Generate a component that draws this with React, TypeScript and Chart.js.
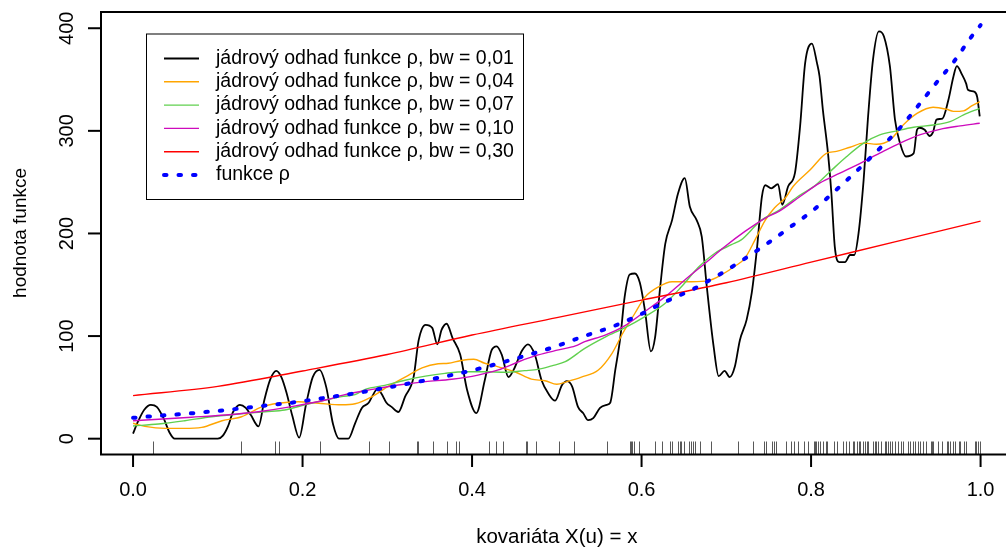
import React, { useEffect, useRef } from "react";
import { Chart, registerables } from "chart.js";

Chart.register(...registerables);

const FONT = '"Liberation Sans", Arial, Helvetica, sans-serif';

// axis ticks
const xTicks = [0, 0.2, 0.4, 0.6, 0.8, 1.0];
const xTickLabels = ["0.0", "0.2", "0.4", "0.6", "0.8", "1.0"];
const yTicks = [0, 100, 200, 300, 400];
const yTickLabels = ["0", "100", "200", "300", "400"];
const xTitle = "kovariáta X(u) = x";
const yTitle = "hodnota funkce";

// legend
const legendLabels = [
  "jádrový odhad funkce ρ, bw = 0,01",
  "jádrový odhad funkce ρ, bw = 0,04",
  "jádrový odhad funkce ρ, bw = 0,07",
  "jádrový odhad funkce ρ, bw = 0,10",
  "jádrový odhad funkce ρ, bw = 0,30",
  "funkce ρ",
];

// bw = 0.01
const bw01X = [0.000, 0.006, 0.013, 0.021, 0.028, 0.036, 0.043, 0.049, 0.100, 0.106, 0.112, 0.118, 0.126, 0.133, 0.139, 0.148, 0.155, 0.162, 0.169, 0.175, 0.181, 0.188, 0.196, 0.204, 0.212, 0.220, 0.228, 0.236, 0.243, 0.254, 0.262, 0.270, 0.278, 0.282, 0.288, 0.293, 0.299, 0.305, 0.313, 0.321, 0.331, 0.337, 0.345, 0.353, 0.359, 0.364, 0.370, 0.377, 0.386, 0.394, 0.405, 0.415, 0.423, 0.429, 0.435, 0.443, 0.449, 0.459, 0.466, 0.474, 0.482, 0.490, 0.498, 0.506, 0.512, 0.518, 0.525, 0.531, 0.537, 0.543, 0.551, 0.559, 0.563, 0.569, 0.575, 0.580, 0.586, 0.592, 0.598, 0.604, 0.611, 0.616, 0.622, 0.628, 0.636, 0.643, 0.651, 0.657, 0.665, 0.671, 0.677, 0.685, 0.691, 0.698, 0.704, 0.710, 0.716, 0.724, 0.730, 0.736, 0.742, 0.746, 0.753, 0.761, 0.766, 0.773, 0.781, 0.787, 0.793, 0.801, 0.807, 0.810, 0.814, 0.820, 0.824, 0.828, 0.833, 0.840, 0.846, 0.851, 0.856, 0.862, 0.867, 0.873, 0.880, 0.886, 0.893, 0.899, 0.905, 0.912, 0.921, 0.925, 0.928, 0.934, 0.940, 0.944, 0.948, 0.955, 0.962, 0.968, 0.972, 0.978, 0.983, 0.985, 0.993, 0.996, 0.999];
const bw01Y = [5, 17, 28, 33, 31, 20, 6, 0, 0, 3, 12, 26, 33, 30, 23, 12, 38, 58, 66, 60, 45, 22, 1, 33, 60, 67, 50, 14, 0, 0, 15, 30, 35, 41, 48, 44, 35, 31, 26, 41, 60, 96, 111, 108, 92, 106, 112, 98, 82, 48, 25, 57, 86, 90, 82, 60, 67, 86, 92, 82, 57, 44, 37, 52, 56, 51, 31, 25, 18, 20, 30, 33, 35, 67, 99, 138, 160, 161, 152, 125, 85, 99, 148, 190, 213, 239, 254, 226, 213, 197, 148, 90, 61, 66, 60, 70, 96, 116, 142, 184, 236, 247, 244, 248, 228, 246, 259, 304, 366, 385, 366, 353, 320, 278, 239, 187, 172, 172, 179, 179, 200, 252, 311, 369, 397, 392, 363, 311, 288, 275, 278, 301, 303, 301, 295, 299, 311, 312, 330, 353, 363, 355, 346, 340, 338, 333, 314];

// bw = 0.04
const bw04X = [0.000, 0.014, 0.038, 0.060, 0.081, 0.105, 0.128, 0.152, 0.171, 0.195, 0.219, 0.246, 0.262, 0.282, 0.301, 0.321, 0.341, 0.360, 0.372, 0.386, 0.402, 0.415, 0.431, 0.451, 0.470, 0.486, 0.500, 0.512, 0.529, 0.549, 0.565, 0.578, 0.592, 0.604, 0.620, 0.636, 0.659, 0.679, 0.695, 0.710, 0.722, 0.734, 0.746, 0.757, 0.770, 0.779, 0.799, 0.818, 0.830, 0.846, 0.862, 0.877, 0.893, 0.909, 0.925, 0.944, 0.960, 0.968, 0.980, 0.989, 0.999];
const bw04Y = [15, 12, 10, 10, 11, 17.5, 21.4, 31, 34.5, 36, 34.5, 33, 34, 41, 51, 60, 69, 73, 73.5, 76, 77.4, 73.5, 70, 65, 58, 56.5, 53, 55.6, 60, 67, 83, 103, 122, 138, 148, 153, 153, 154, 160, 168, 176, 194, 213, 225, 235, 246, 262, 278, 280, 284, 288, 287, 291, 306, 317, 323, 321, 319, 319.5, 324, 328.5];

// bw = 0.07
const bw07X = [0.000, 0.030, 0.061, 0.093, 0.124, 0.156, 0.179, 0.203, 0.227, 0.246, 0.262, 0.274, 0.297, 0.321, 0.345, 0.368, 0.392, 0.415, 0.439, 0.462, 0.478, 0.494, 0.510, 0.533, 0.557, 0.580, 0.604, 0.628, 0.647, 0.667, 0.687, 0.706, 0.718, 0.740, 0.763, 0.787, 0.803, 0.822, 0.842, 0.862, 0.881, 0.901, 0.921, 0.944, 0.964, 0.980, 0.999];
const bw07Y = [12.4, 14.3, 17.5, 21.4, 24, 26.3, 28, 33, 37.7, 41, 43, 48, 52, 57, 61, 63.7, 65.3, 65.3, 64.7, 66.3, 67.6, 71, 75, 88, 99, 108, 119, 132, 148, 167, 181, 189, 194, 212, 223, 237.5, 245.6, 260, 275, 288, 296, 300, 303.5, 305.7, 309, 315.5, 322];

// bw = 0.10
const bw10X = [0.000, 0.030, 0.069, 0.109, 0.148, 0.187, 0.227, 0.250, 0.282, 0.313, 0.345, 0.376, 0.407, 0.431, 0.455, 0.478, 0.502, 0.522, 0.533, 0.557, 0.580, 0.604, 0.628, 0.651, 0.675, 0.698, 0.722, 0.746, 0.763, 0.787, 0.810, 0.834, 0.858, 0.881, 0.905, 0.928, 0.952, 0.976, 0.999];
const bw10Y = [17.5, 18.9, 20.9, 23.1, 26.3, 31.2, 37.7, 43, 48, 52.3, 55.6, 57.9, 62, 67, 75, 81.6, 86.5, 90.4, 94.5, 101, 110, 124, 138.4, 154.7, 171, 187, 202, 215, 222, 236, 249, 258.7, 268.4, 278.2, 288, 296, 301.5, 304.8, 307.4];

// bw = 0.30
const bw30X = [0.0, 0.1, 0.2, 0.3, 0.4, 0.5, 0.6, 0.7, 0.8, 0.9, 1.0];
const bw30Y = [42, 51, 66, 82, 101, 118, 135, 152, 172, 192, 212];

// true function rho
const rhoX = [0.000, 0.021, 0.055, 0.090, 0.124, 0.159, 0.194, 0.228, 0.262, 0.297, 0.331, 0.365, 0.399, 0.432, 0.465, 0.499, 0.529, 0.565, 0.596, 0.627, 0.659, 0.690, 0.719, 0.748, 0.775, 0.803, 0.829, 0.854, 0.880, 0.905, 0.925, 0.947, 0.969, 0.989, 1.000];
const rhoY = [20.3, 21.8, 23.8, 26.3, 29.2, 32.5, 35.8, 40, 44.2, 49.4, 54.6, 60.1, 66.3, 73.5, 81.3, 90, 99, 109, 120, 133, 145, 159, 174, 190, 206, 223, 242, 261, 282, 303, 323, 346, 368, 391.5, 403];

// rug (observed covariate values)
const rugX = [0.023, 0.127, 0.168, 0.172, 0.221, 0.278, 0.302, 0.335, 0.336, 0.354, 0.371, 0.381, 0.384, 0.420, 0.428, 0.437, 0.464, 0.465, 0.476, 0.502, 0.520, 0.559, 0.586, 0.588, 0.589, 0.591, 0.597, 0.616, 0.624, 0.634, 0.636, 0.643, 0.645, 0.647, 0.650, 0.656, 0.658, 0.661, 0.663, 0.669, 0.682, 0.714, 0.732, 0.744, 0.747, 0.754, 0.756, 0.759, 0.770, 0.776, 0.780, 0.785, 0.792, 0.796, 0.804, 0.805, 0.806, 0.808, 0.810, 0.814, 0.818, 0.819, 0.827, 0.831, 0.838, 0.841, 0.845, 0.849, 0.851, 0.854, 0.856, 0.858, 0.861, 0.864, 0.866, 0.867, 0.873, 0.875, 0.877, 0.879, 0.883, 0.887, 0.889, 0.891, 0.893, 0.895, 0.899, 0.903, 0.906, 0.909, 0.914, 0.917, 0.920, 0.923, 0.926, 0.928, 0.932, 0.936, 0.941, 0.943, 0.944, 0.950, 0.954, 0.960, 0.962, 0.964, 0.967, 0.970, 0.974, 0.976, 0.980, 0.983, 0.993, 0.995, 0.997, 0.999];

const COLORS = ["#000000", "#FFA500", "#61D04F", "#CD0BBC", "#FF0000", "#0000FF"];
const WIDTHS = [1.8, 1.4, 1.4, 1.4, 1.4, 4];
const RHO_DASH = [2.5, 12];

const pts = (xs: number[], ys: number[]) => xs.map((x, i) => ({ x, y: ys[i] }));

const overlay = {
  id: "overlay",
  afterDatasetsDraw(chart: any) {
    const ctx = chart.ctx as CanvasRenderingContext2D;
    const { left, right, top, bottom } = chart.chartArea;
    const xs = chart.scales.x;
    const ys = chart.scales.y;
    ctx.save();

    // rug
    ctx.strokeStyle = "rgba(0,0,0,0.65)";
    ctx.lineWidth = 1;
    rugX.forEach((v) => {
      const px = Math.round(xs.getPixelForValue(v)) + 0.5;
      ctx.beginPath();
      ctx.moveTo(px, bottom - 13.5);
      ctx.lineTo(px, bottom - 1);
      ctx.stroke();
    });

    // box
    ctx.strokeStyle = "#000";
    ctx.lineWidth = 2;
    ctx.beginPath();
    ctx.rect(left + 1, top + 1, right - left + 20, bottom - top - 1.5);
    ctx.stroke();

    // y ticks & labels
    ctx.fillStyle = "#000";
    ctx.font = `20px ${FONT}`;
    yTicks.forEach((v, i) => {
      const py = ys.getPixelForValue(v);
      ctx.beginPath();
      ctx.moveTo(left - 12, py);
      ctx.lineTo(left + 1, py);
      ctx.stroke();
      ctx.save();
      ctx.translate(left - 27, py);
      ctx.rotate(-Math.PI / 2);
      ctx.textAlign = "center";
      ctx.textBaseline = "alphabetic";
      ctx.fillText(yTickLabels[i], 0, 0);
      ctx.restore();
    });

    // x ticks & labels
    xTicks.forEach((v, i) => {
      const px = xs.getPixelForValue(v);
      ctx.beginPath();
      ctx.moveTo(px, bottom - 1);
      ctx.lineTo(px, bottom + 12);
      ctx.stroke();
      ctx.textAlign = "center";
      ctx.textBaseline = "middle";
      ctx.fillText(xTickLabels[i], px, bottom + 35);
    });

    // axis titles
    ctx.textAlign = "center";
    ctx.textBaseline = "middle";
    ctx.font = `20.5px ${FONT}`;
    ctx.fillText(xTitle, xs.getPixelForValue(0.5), bottom + 82);
    ctx.font = `19px ${FONT}`;
    ctx.save();
    ctx.translate(26, ys.getPixelForValue(200.5));
    ctx.rotate(-Math.PI / 2);
    ctx.textBaseline = "alphabetic";
    ctx.fillText(yTitle, 0, 0);
    ctx.restore();

    // legend
    const lx = 146, ly = 33.5, lw = 377, lh = 165.5;
    ctx.fillStyle = "#fff";
    ctx.fillRect(lx, ly, lw, lh);
    ctx.strokeStyle = "#000";
    ctx.lineWidth = 1;
    ctx.strokeRect(lx + 0.5, ly + 0.5, lw, lh);
    ctx.font = `19.5px ${FONT}`;
    ctx.textAlign = "left";
    ctx.textBaseline = "middle";
    legendLabels.forEach((lab, i) => {
      const cy = 58.5 + i * 23.3;
      ctx.save();
      ctx.strokeStyle = COLORS[i];
      ctx.lineWidth = WIDTHS[i];
      if (i === 5) {
        ctx.setLineDash(RHO_DASH);
        ctx.lineCap = "round";
      }
      ctx.beginPath();
      ctx.moveTo(164, cy);
      ctx.lineTo(199, cy);
      ctx.stroke();
      ctx.restore();
      ctx.fillStyle = "#000";
      ctx.fillText(lab, 216, cy);
    });

    ctx.restore();
  },
};

export default function App() {
  const ref = useRef<HTMLCanvasElement | null>(null);
  useEffect(() => {
    if (!ref.current) return;
    const series = [
      pts(bw01X, bw01Y),
      pts(bw04X, bw04Y),
      pts(bw07X, bw07Y),
      pts(bw10X, bw10Y),
      pts(bw30X, bw30Y),
      pts(rhoX, rhoY),
    ];
    const chart = new Chart(ref.current, {
      type: "line",
      data: {
        datasets: series.map((d, i) => ({
          label: legendLabels[i],
          data: d,
          borderColor: COLORS[i],
          borderWidth: WIDTHS[i],
          pointRadius: 0,
          fill: false,
          cubicInterpolationMode: "monotone" as const,
          borderDash: i === 5 ? RHO_DASH : [],
          borderCapStyle: i === 5 ? ("round" as const) : ("butt" as const),
          order: 6 - i,
        })),
      },
      options: {
        responsive: false,
        maintainAspectRatio: false,
        animation: false,
        layout: { padding: { top: 11, left: 0, right: 0, bottom: 0 } },
        plugins: { legend: { display: false }, tooltip: { enabled: false } },
        scales: {
          x: {
            type: "linear",
            min: -0.039,
            max: 1.03,
            grid: { display: false },
            border: { display: false },
            ticks: { display: false },
            afterFit: (s: any) => {
              s.height = 96;
            },
          },
          y: {
            type: "linear",
            min: -15.9,
            max: 416.8,
            grid: { display: false },
            border: { display: false },
            ticks: { display: false },
            afterFit: (s: any) => {
              s.width = 100;
            },
          },
        },
      },
      plugins: [overlay],
    });
    return () => chart.destroy();
  }, []);
  return (
    <div style={{ position: "fixed", left: 0, top: 0, width: 1006, height: 551, background: "#fff" }}>
      <canvas ref={ref} width={1006} height={551} style={{ display: "block" }} />
    </div>
  );
}
